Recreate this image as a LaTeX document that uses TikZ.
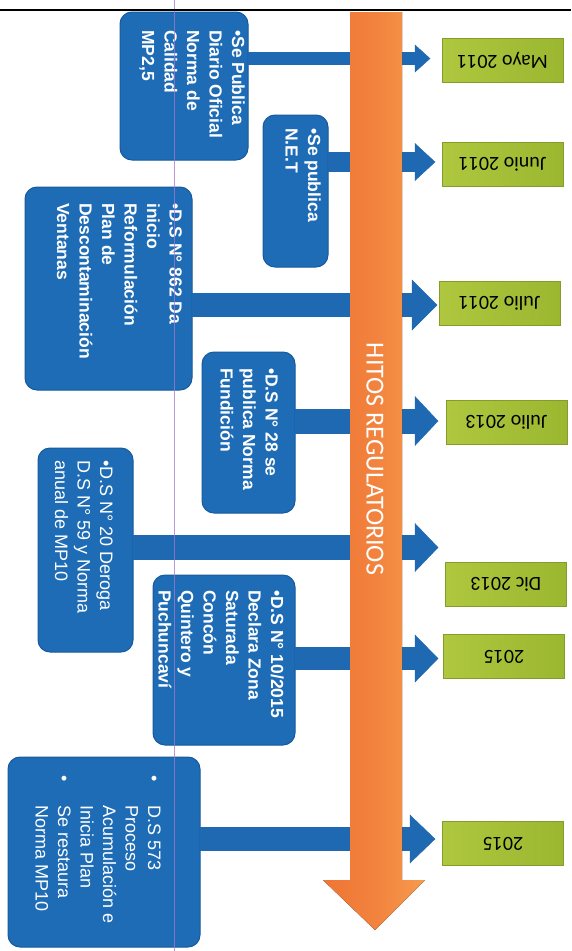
\documentclass[tikz,border=0pt]{standalone}
\usepackage{fontspec}
\setmainfont{Liberation Sans}
\newfontfamily\calib{Carlito}
\definecolor{boxblue}{HTML}{1E6CB6}
\definecolor{boxedge}{HTML}{175A9C}
\definecolor{arrblue}{HTML}{1F68B2}
\definecolor{gleft}{HTML}{9BB730}
\definecolor{gright}{HTML}{AEC73E}
\definecolor{oleft}{HTML}{EE7634}
\definecolor{omid}{HTML}{F2823D}
\definecolor{oright}{HTML}{F69B4E}
\definecolor{lilac}{HTML}{A678CC}
\tikzset{
  bluebox/.style={draw=boxedge, fill=boxblue, rounded corners=12pt, line width=1pt, inner sep=0pt},
  boxtext/.style={rotate=-90, anchor=north west, inner sep=0pt, align=left, text=white,
    font=\fontsize{17.5}{22.5}\selectfont\bfseries},
  boxtextreg/.style={rotate=-90, anchor=north west, inner sep=0pt, align=left, text=white,
    font=\fontsize{18}{22.5}\selectfont},
  datebox/.style={draw=gleft!85!black, line width=0.4pt, rotate=180,
    left color=gright, right color=gleft, minimum width=121pt, minimum height=44pt,
    inner sep=0pt, text=black, font=\calib\fontsize{20}{24}\selectfont},
  arrowblue/.style={draw=arrblue, fill=arrblue},
}
\newcommand\hitarrow[5]{%
  \draw[arrowblue, line width=#3pt] ([xshift=-1pt]#1.east |- #2) -- ([xshift=-#5pt+1pt]#2);
  \fill[arrowblue] (#2) -- ++(-#5,#4) -- ++(0,-2*#4) -- cycle;}
\begin{document}
\begin{tikzpicture}[x=1pt,y=-1pt]
\useasboundingbox (0,0) rectangle (571,951);
\fill[white] (0,0) rectangle (571,951);

% blue boxes
\node[bluebox, minimum width=128pt, minimum height=148pt] (b1) at (184,86) {};
\node[bluebox, minimum width=65pt, minimum height=152pt] (b2) at (295.5,191) {};
\node[bluebox, minimum width=167pt, minimum height=203pt] (b3) at (108.5,288.5) {};
\node[bluebox, minimum width=93pt, minimum height=161pt] (b4) at (248.5,432.5) {};
\node[bluebox, minimum width=95pt, minimum height=204pt] (b5) at (85.5,550) {};
\node[bluebox, minimum width=142pt, minimum height=170pt] (b6) at (224,660) {};
\node[bluebox, minimum width=192pt, minimum height=190pt] (b7) at (104,852) {};

% arrow tips
\coordinate (t1) at (430,58.5);
\coordinate (t2) at (435,162);
\coordinate (t3) at (437,305);
\coordinate (t4) at (438,421);
\coordinate (t5) at (438,547.5);
\coordinate (t6) at (438,658.5);
\coordinate (t7) at (435,839);

\hitarrow{b1}{t1}{13}{13.5}{15}
\hitarrow{b2}{t2}{20}{18.5}{20}
\hitarrow{b3}{t3}{24}{25}{25}
\hitarrow{b4}{t4}{25}{24.5}{23}
\hitarrow{b5}{t5}{25}{24}{23}
\hitarrow{b6}{t6}{23}{23.5}{23}
\hitarrow{b7}{t7}{24}{24}{25}

% orange timeline arrow
\fill[left color=oleft, right color=oright, middle color=omid]
  (350,12) -- (402,12) -- (402,880) -- (425,880) -- (375,930) -- (323,880) -- (350,880) -- cycle;
\node[rotate=-90, text=white, font=\calib\fontsize{26}{30}\selectfont, inner sep=0pt] (hitos) at (375,459) {HITOS REGULATORIOS};

% date boxes
\node[datebox] (g1) at (502.5,60.5) {Mayo 2011};
\node[datebox] (g2) at (502.5,164) {Junio 2011};
\node[datebox] (g3) at (499.5,303.5) {Julio 2011};
\node[datebox] (g4) at (506.5,422.5) {Julio 2013};
\node[datebox] (g5) at (506,584) {Dic 2013};
\node[datebox] (g6) at (504,656.5) {2015};
\node[datebox] (g7) at (503,843.5) {2015};

% box texts
\node[boxtext] (x1) at (245,30) {•Se Publica\\Diario Oficial\\Norma de\\Calidad\\MP2,5};
\node[boxtext] (x2) at (321,128) {•Se publica\\N.E.T};
\node[boxtext] (x3) at (182,203) {•D.S N° 862 Da\\inicio\\Reformulación\\Plan de\\Descontaminación\\Ventanas};
\node[boxtext] (x4) at (278,368) {•D.S N° 28 se\\publica Norma\\Fundición};
\node[boxtextreg] (x5) at (113,460) {•D.S N° 20 Deroga\\D.S N° 59 y Norma\\anual de MP10};
\node[boxtext] (x6) at (284,590) {•D.S N° 10/2015\\Declara Zona\\Saturada\\Concón\\Quintero y\\Puchuncaví};
\node[boxtextreg] (x7) at (161,775) {\makebox[30pt][l]{•}D.S 573\\\hspace*{30pt}Proceso\\\hspace*{30pt}Acumulación e\\\hspace*{30pt}Inicia Plan\\\makebox[30pt][l]{•}Se restaura\\\hspace*{30pt}Norma MP10};

% overlay lines
\draw[lilac, opacity=0.75, line width=0.8pt] (174,0) -- (174,951);
\draw[black, line width=2pt] (0,10) -- (571,10);
\end{tikzpicture}
\end{document}
